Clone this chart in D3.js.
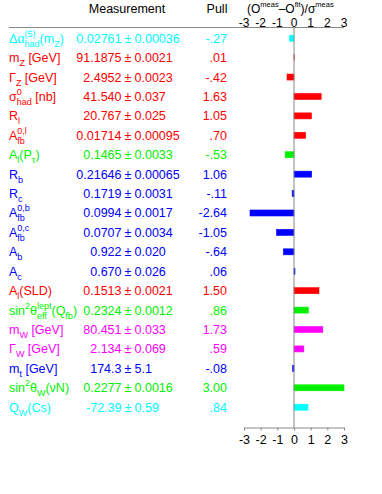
<!DOCTYPE html>
<html>
<head>
<meta charset="utf-8">
<script src="https://cdn.jsdelivr.net/npm/d3@7"></script>
<style>
body{margin:0;background:#fff;}
text{font-family:"Liberation Sans",Arial,Helvetica,sans-serif;white-space:pre;}
</style>
</head>
<body>
<div id="canvas"></div>
<script>
// row labels, ^{..} superscript, _{..} subscript
var labels = ['Δα^{(5)}_{had}(m_{Z})','m_{Z} [GeV]','Γ_{Z} [GeV]','σ^{0}_{had} [nb]','R_{l}',
  'A^{0,l}_{fb}','A_{l}(P_{τ})','R_{b}','R_{c}','A^{0,b}_{fb}','A^{0,c}_{fb}','A_{b}','A_{c}',
  'A_{l}(SLD)','sin^{2}θ^{lept}_{eff}(Q_{fb})','m_{W} [GeV]','Γ_{W} [GeV]','m_{t} [GeV]',
  'sin^{2}θ_{W}(νN)','Q_{W}(Cs)'];
var values = ['0.02761','91.1875','2.4952','41.540','20.767','0.01714','0.1465','0.21646','0.1719',
  '0.0994','0.0707','0.922','0.670','0.1513','0.2324','80.451','2.134','174.3','0.2277','-72.39'];
var errors = ['0.00036','0.0021','0.0023','0.037','0.025','0.00095','0.0033','0.00065','0.0031',
  '0.0017','0.0034','0.020','0.026','0.0021','0.0012','0.033','0.069','5.1','0.0016','0.59'];
var pulls = [-0.27,0.01,-0.42,1.63,1.05,0.70,-0.53,1.06,-0.11,-2.64,-1.05,-0.64,0.06,1.50,0.86,1.73,0.59,-0.08,3.00,0.84];
var groups = ['c','r','r','r','r','r','g','b','b','b','b','b','b','r','g','m','m','b','g','c'];
var ticks = [-3,-2,-1,0,1,2,3];

var colors = {c:'#00ffff',r:'#ff0000',g:'#00f000',b:'#0000ff',m:'#ff00ff'};
var W = 382, H = 494;

var svg = d3.select('#canvas').append('svg')
    .attr('width',W).attr('height',H);

var x = d3.scaleLinear().domain([-3,3]).range([244,344]);
var y = d3.scalePoint().domain(d3.range(labels.length)).range([38.2,407.2]);

// draws text with sub/superscripts piece by piece
function rich(g, str, x0, y0, color, size, supSize){
  var toks = str.match(/\^\{[^}]*\}|_\{[^}]*\}|[^^_]+/g);
  var cx = x0, i = 0;
  while(i < toks.length){
    var t = toks[i];
    if(t[0]==='^' || t[0]==='_'){
      var w = 0;
      while(i < toks.length && (toks[i][0]==='^' || toks[i][0]==='_')){
        var sup = toks[i][0]==='^';
        var el = g.append('text')
            .attr('x',cx).attr('y',y0 + (sup ? -6 : 4))
            .attr('font-size',supSize || size*0.72)
            .attr('fill',color)
            .text(toks[i].slice(2,-1));
        w = Math.max(w, el.node().getComputedTextLength());
        i++;
      }
      cx += w;
    } else {
      var el2 = g.append('text')
          .attr('x',cx).attr('y',y0)
          .attr('font-size',size)
          .attr('fill',color)
          .text(t);
      cx += el2.node().getComputedTextLength();
      i++;
    }
  }
}

// headers
svg.append('text').attr('x',127).attr('y',13).attr('text-anchor','middle')
    .attr('font-size',12.5).text('Measurement');
svg.append('text').attr('x',217).attr('y',13).attr('text-anchor','middle')
    .attr('font-size',12.5).text('Pull');
rich(svg,'(O^{meas}–O^{fit})/σ^{meas}',247,12.5,'#000',12,7.5);

// top line
svg.append('line').attr('x1',9).attr('x2',344).attr('y1',27.5).attr('y2',27.5)
    .style('stroke','#888').style('stroke-width',1);
svg.selectAll('.ttick').data(ticks).enter().append('text')
    .attr('x',function(d){return x(d);}).attr('y',26.5)
    .attr('text-anchor','middle').attr('font-size',12)
    .text(function(d){return String(d);});

// rows
var rows = svg.selectAll('.row').data(labels).enter().append('g').attr('class','row');
rows.each(function(d,i){
  var g = d3.select(this), c = colors[groups[i]], by = y(i) + 4.5;
  rich(g, d, 9, by, c, 12.5);
  g.append('text').attr('x',121.5).attr('y',by).attr('text-anchor','end')
      .attr('font-size',12.5).attr('fill',c).text(values[i]);
  g.append('text').attr('x',128).attr('y',by).attr('text-anchor','middle')
      .attr('font-size',12.5).attr('fill',c).text('±');
  g.append('text').attr('x',134.5).attr('y',by)
      .attr('font-size',12.5).attr('fill',c).text(errors[i]);
  var p = pulls[i].toFixed(2).replace(/^(-?)0\./,'$1.');
  g.append('text').attr('x',227).attr('y',by).attr('text-anchor','end')
      .attr('font-size',12.5).attr('fill',c).text(p);
});

// bars
svg.selectAll('.bar').data(pulls).enter().append('rect')
    .attr('x',function(d){return Math.min(x(0),x(d));})
    .attr('width',function(d){return Math.abs(x(d)-x(0));})
    .attr('y',function(d,i){return y(i)-3;})
    .attr('height',6)
    .style('fill',function(d,i){return colors[groups[i]];})
    .style('stroke',function(d,i){return colors[groups[i]];})
    .style('stroke-width',0.6);

// zero line
svg.append('line').attr('x1',x(0)).attr('x2',x(0)).attr('y1',27.5).attr('y2',427.5)
    .style('stroke','#888').style('stroke-width',1);

// bottom axis
var ax = svg.append('g').attr('transform','translate(0,427.5)')
    .call(d3.axisBottom(x).tickValues(ticks).tickSize(3).tickSizeOuter(0).tickPadding(5)
        .tickFormat(function(d){return String(d);}));
ax.select('.domain').style('stroke','#888');
ax.selectAll('.tick line').style('stroke','#888');
ax.selectAll('.tick text').attr('font-size',12.5).attr('fill','#000')
    .style('font-family','"Liberation Sans",Arial,sans-serif');
</script>
</body>
</html>
